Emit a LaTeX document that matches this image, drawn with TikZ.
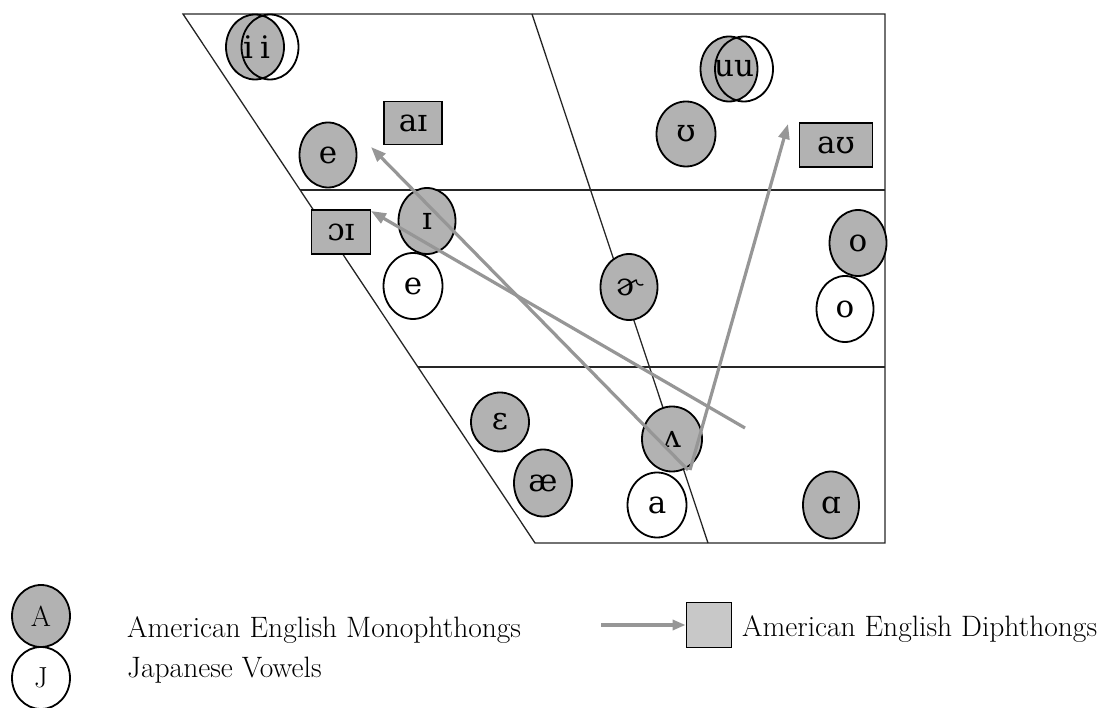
\documentclass[tikz,border=0pt]{standalone}
\usepackage{fontspec}
\newfontfamily\ipafont{DejaVu Serif}
\usetikzlibrary{shapes.geometric,arrows.meta}
\definecolor{vowelgray}{RGB}{178,178,178}
\definecolor{keygray}{RGB}{200,200,200}
\definecolor{arrowgray}{RGB}{150,150,150}
\begin{document}
\begin{tikzpicture}[x=1pt,y=-1pt,
  chartline/.style={line width=1.3pt, draw=black!85},
  amvowel/.style={ellipse, draw=black, line width=1.8pt, fill=vowelgray, inner sep=0pt,
    minimum width=57pt, minimum height=65pt, font=\ipafont\fontsize{31}{36}\selectfont},
  jpvowel/.style={amvowel, fill=white},
  jpring/.style={amvowel, fill=none},
  ipatext/.style={inner sep=0pt, font=\ipafont\fontsize{31}{36}\selectfont},
  diphbox/.style={draw=black, line width=1.8pt, fill=vowelgray, inner sep=0pt,
    minimum height=44pt, font=\ipafont\fontsize{31}{36}\selectfont},
  glide/.style={draw=arrowgray, line width=3.2pt, -{Triangle[length=15pt,width=11pt]}},
  keytext/.style={anchor=base west, inner sep=0pt, font=\fontsize{29.5}{34}\selectfont},
  keyletter/.style={font=\fontsize{29}{34}\selectfont}
]
\useasboundingbox (0,0) rectangle (1111,708);

% vowel trapezoid
\coordinate (tl) at (183,14);
\coordinate (tr) at (885,14);
\coordinate (br) at (885,543);
\coordinate (bl) at (535,543);
\coordinate (midtop) at (532,14);
\coordinate (midbot) at (708,543);
\coordinate (upl) at (300,190);
\coordinate (upr) at (885,190);
\coordinate (lowl) at (418,367);
\coordinate (lowr) at (885,367);
\draw[chartline] (tl) -- (tr) -- (br) -- (bl) -- cycle;
\draw[chartline] (midtop) -- (midbot);
\draw[chartline] (upl) -- (upr);
\draw[chartline] (lowl) -- (lowr);

% high vowels
\node[amvowel, minimum width=58pt] (igray) at (255,47) {};
\node[jpring] (iwhite) at (270,47) {};
\node[ipatext] (ilab1) at (248,47) {i};
\node[ipatext] (ilab2) at (265,47) {i};
\node[amvowel] (ugray) at (729,69) {};
\node[jpring, minimum width=58pt] (uwhite) at (744,69) {};
\node[ipatext] (ulab) at (734,69) {uu};
\node[amvowel] (eam) at (328,155) {e};
\node[amvowel, minimum width=59pt] (upsilon) at (686,134) {ʊ};
\node[diphbox, minimum width=58pt, minimum height=43pt] (ai) at (413,123) {aɪ};
\node[diphbox, minimum width=73pt] (au) at (836,145) {aʊ};

% mid vowels
\node[amvowel, minimum height=66pt] (smalli) at (427,221) {ɪ};
\node[diphbox, minimum width=59pt] (oi) at (341,232) {ɔɪ};
\node[jpvowel, minimum width=59pt, minimum height=66pt] (ejp) at (413,286) {e};
\node[amvowel, minimum height=66pt] (schwar) at (629,287) {ɚ};
\node[amvowel, minimum height=66pt] (oam) at (858,243) {o};
\node[jpvowel, minimum height=66pt] (ojp) at (845,309) {o};

% low vowels
\node[amvowel, minimum width=58pt, minimum height=59pt] (epsilon) at (500,422) {ɛ};
\node[amvowel, minimum width=58pt, minimum height=67pt] (ash) at (543,483) {æ};
\node[amvowel, minimum width=60pt] (wedge) at (672,439) {ʌ};
\node[jpvowel, minimum width=59pt] (ajp) at (657,505) {a};
\node[amvowel, minimum width=56pt, minimum height=67pt] (alpha) at (831,505) {ɑ};

% diphthong glides
\coordinate (aistart) at (688,470);
\coordinate (aiend) at (371,147);
\coordinate (austart) at (690,470);
\coordinate (auend) at (788,124);
\coordinate (oistart) at (745,428);
\coordinate (oiend) at (371,211);
\draw[glide] (aistart) -- (aiend);
\draw[glide] (oistart) -- (oiend);
\draw[glide] (austart) -- (auend);

% key
\node[amvowel, minimum width=58pt, minimum height=62pt, keyletter] (keya) at (41,616) {A};
\node[jpvowel, minimum width=58pt, minimum height=62pt, keyletter] (keyj) at (41,678) {J};
\node[keytext] (monotext) at (127,637) {American English Monophthongs};
\node[keytext] (jptext) at (127,677) {Japanese Vowels};
\coordinate (keyarrow) at (601,625);
\node[draw=black, line width=1.8pt, fill=keygray, minimum width=45pt, minimum height=45pt, inner sep=0pt] (keybox) at (709,625) {};
\draw[glide, -{Triangle[length=13pt,width=10pt]}] (keyarrow) -- (keybox.west);
\node[keytext] (diphtext) at (742,636) {American English Diphthongs};
\end{tikzpicture}
\end{document}
